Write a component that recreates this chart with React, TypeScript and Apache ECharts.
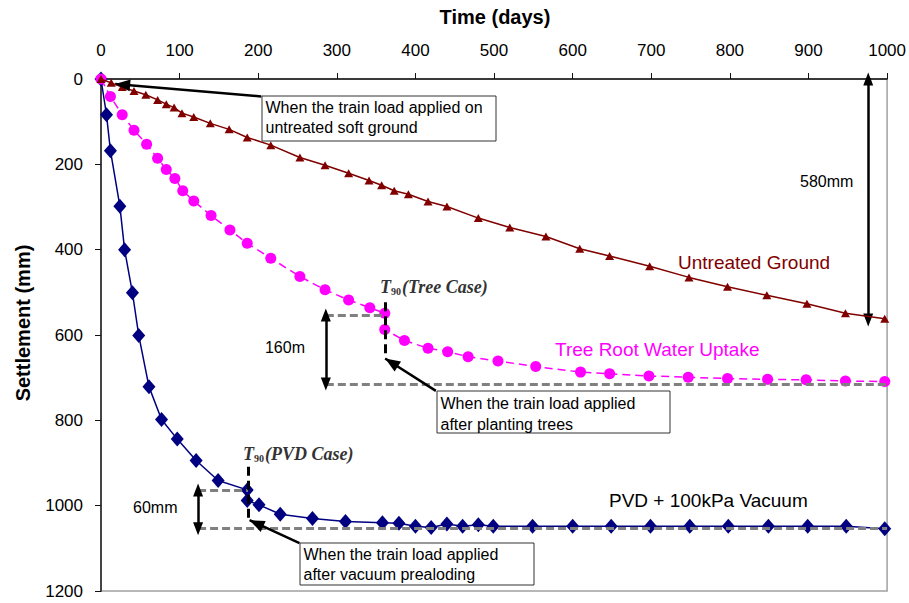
import React, { useEffect, useRef } from "react";
import * as echarts from "echarts";

// ---------- data ----------
const untreatedDays = [0, 13, 27, 42, 57, 72, 83, 93, 103, 118, 139, 163, 186, 216, 253, 285, 315, 341, 357, 373, 391, 416, 440, 480, 520, 566, 609, 647, 698, 748, 797, 847, 898, 947, 997];
const untreatedMm = [0, 9, 19, 28, 37, 49, 59, 67, 80, 89, 104, 118, 137, 155, 184, 202, 221, 238, 249, 262, 270, 287, 299, 326, 348, 369, 398, 415, 439, 465, 487, 507, 527, 549, 562];

const treeDays = [0, 12, 27, 42, 58, 72, 83, 94, 104, 118, 140, 164, 186, 216, 253, 285, 315, 342, 361, 361, 386, 416, 441, 467, 505, 553, 610, 647, 697, 747, 797, 848, 897, 947, 997];
const treeMm = [0, 41, 84, 120, 153, 186, 212, 233, 262, 286, 320, 354, 385, 420, 463, 494, 518, 536, 549, 587, 613, 631, 639, 651, 661, 674, 687, 691, 696, 699, 702, 704, 705, 708, 709];

const pvdDays = [0, 7, 12, 24, 30, 40, 48, 61, 77, 97, 121, 149, 186, 186, 201, 228, 269, 311, 358, 379, 400, 420, 440, 460, 480, 499, 549, 600, 649, 699, 749, 798, 849, 899, 948, 997];
const pvdMm = [0, 84, 168, 298, 400, 501, 601, 721, 798, 844, 894, 941, 963, 988, 998, 1020, 1030, 1037, 1040, 1041, 1048, 1051, 1043, 1048, 1045, 1048, 1048, 1048, 1048, 1048, 1048, 1048, 1048, 1048, 1048, 1054];

// annotation geometry in data units (days, mm)
const treeT90 = { day: 361, top: 523, bottom: 654, levelTop: 553, levelBottom: 715, arrowDay: 286 };
const pvdT90 = { day: 187, top: 909, bottom: 1032, levelTop: 963, levelBottom: 1054, arrowDay: 123.5 };
const total580 = { day: 976, top: 0, bottom: 565 };
const pointerUntreated = { from: [204, 41], to: [18, 12] };
const pointerTree = { from: [426, 731], to: [361.5, 655] };
const pointerPvd = { from: [252.5, 1088], to: [189, 1034] };

const FONT = '"Liberation Sans", Arial, sans-serif';
const SERIF = '"Liberation Serif", "Times New Roman", serif';

const zip = (a: number[], b: number[]) => a.map((v, i) => [v, b[i]]);

function txt(x: number, y: number, text: string, font: string, fill = "#000", align = "left", vAlign = "middle", extra: any = {}) {
  return {
    type: "text",
    x,
    y,
    z: 100,
    silent: true,
    style: { text, font, fill, align, verticalAlign: vAlign, textAlign: align, textVerticalAlign: vAlign, ...extra },
  };
}

function box(x: number, y: number, w: number, h: number, text: string, lh: number) {
  return [
    { type: "rect", z: 99, silent: true, shape: { x, y, width: w, height: h }, style: { fill: "#fff", stroke: "#333", lineWidth: 1 } },
    txt(x + 3.5, y + 1.5, text, `16px ${FONT}`, "#000", "left", "top", { lineHeight: lh }),
  ];
}

function t90(x: number, yBase: number, label: string) {
  const c = "#333";
  return {
    type: "text",
    x,
    y: yBase,
    z: 100,
    silent: true,
    style: {
      text: `{t|T}{s|90}{t|${label}}`,
      align: "left",
      verticalAlign: "bottom",
      textAlign: "left",
      textVerticalAlign: "bottom",
      rich: {
        t: { font: `italic bold 18px ${SERIF}`, fill: c, color: c, verticalAlign: "bottom", lineHeight: 20 },
        s: { font: `bold 10px ${SERIF}`, fill: c, color: c, verticalAlign: "bottom", lineHeight: 20, padding: [0, 1, 0, 0] },
      },
    },
  };
}

const seg = (a: number[], b: number[], s1 = "none", s2 = "none", size: number[] = [11, 15]) => [
  { coord: a, symbol: s1, symbolSize: size },
  { coord: b, symbol: s2, symbolSize: size },
];

export default function App() {
  const ref = useRef<HTMLDivElement>(null);
  useEffect(() => {
    if (!ref.current) return;
    const chart = echarts.init(ref.current, null, { renderer: "svg" });
    const baseGraphics: any[] = [
      txt(495, 17, "Time (days)", `bold 20px ${FONT}`, "#000", "center", "middle"),
      { ...txt(23, 323, "Settlement (mm)", `bold 20px ${FONT}`, "#000", "center", "middle"), rotation: Math.PI / 2 },
      txt(678, 262, "Untreated Ground", `19px ${FONT}`, "#800000"),
      txt(555, 349, "Tree Root Water Uptake", `19px ${FONT}`, "#ff00ff"),
      txt(609, 500, "PVD + 100kPa Vacuum", `19px ${FONT}`, "#000"),
      txt(800, 181, "580mm", `16px ${FONT}`),
      txt(305, 347, "160m", `16px ${FONT}`, "#000", "right"),
      txt(133, 507, "60mm", `16px ${FONT}`),
      t90(380, 296, "(Tree Case)"),
      t90(243, 463, "(PVD Case)"),
      ...box(262, 96, 234, 45, "When the train load applied on\nuntreated soft ground", 20),
      ...box(437, 391, 233, 42, "When the train load applied\nafter planting trees", 21),
      ...box(300, 543, 234, 42, "When the train load applied\nafter vacuum prealoding", 20),
    ];
    const option: any = {
      animation: false,
      backgroundColor: "#fff",
      grid: { left: 101, right: 21, top: 79, bottom: 12, show: true, borderColor: "#a0a0a0", borderWidth: 1.5 },
      xAxis: {
        type: "value",
        position: "top",
        min: 0,
        max: 1000,
        interval: 100,
        axisLine: { show: true, onZero: false, lineStyle: { color: "#111", width: 1.5 } },
        axisTick: { show: true, length: 6, lineStyle: { color: "#111", width: 1 } },
        axisLabel: { fontSize: 17, color: "#000", fontFamily: FONT, margin: 20, formatter: (v: number) => String(v) },
        splitLine: { show: false },
      },
      yAxis: {
        type: "value",
        inverse: true,
        min: 0,
        max: 1200,
        interval: 200,
        axisLine: { show: true, onZero: false, lineStyle: { color: "#444", width: 2 } },
        axisTick: { show: true, length: 6, lineStyle: { color: "#111", width: 1 } },
        axisLabel: { fontSize: 17, color: "#000", fontFamily: FONT, margin: 18, formatter: (v: number) => String(v) },
        splitLine: { show: false },
      },
      series: [
        {
          name: "PVD + 100kPa Vacuum",
          type: "line",
          data: zip(pvdDays, pvdMm),
          symbol: "diamond",
          symbolSize: [13, 15],
          itemStyle: { color: "#000080" },
          lineStyle: { color: "#000080", width: 1.5 },
          z: 3,
          silent: true,
        },
        {
          name: "Tree Root Water Uptake",
          type: "line",
          data: zip(treeDays, treeMm),
          symbol: "circle",
          symbolSize: 11,
          itemStyle: { color: "#ff00ff" },
          lineStyle: { color: "#ff00ff", width: 1.5, type: [8, 5] },
          z: 4,
          silent: true,
        },
        {
          name: "Untreated Ground",
          type: "line",
          data: zip(untreatedDays, untreatedMm),
          symbol: "triangle",
          symbolSize: [9, 8],
          itemStyle: { color: "#800000" },
          lineStyle: { color: "#800000", width: 1.5 },
          z: 5,
          silent: true,
        },
        {
          name: "grayLevels",
          type: "line",
          data: [],
          z: 6,
          silent: true,
          markLine: {
            silent: true,
            animation: false,
            symbol: "none",
            label: { show: false },
            lineStyle: { color: "#808080", width: 3, type: [8, 4] },
            data: [
              seg([treeT90.arrowDay, treeT90.levelTop], [treeT90.day, treeT90.levelTop]),
              seg([treeT90.arrowDay, treeT90.levelBottom], [1000, treeT90.levelBottom]),
              seg([pvdT90.arrowDay, pvdT90.levelTop], [pvdT90.day, pvdT90.levelTop]),
              seg([pvdT90.arrowDay, pvdT90.levelBottom], [1000, pvdT90.levelBottom]),
            ],
          },
        },
        {
          name: "t90Lines",
          type: "line",
          data: [],
          z: 7,
          silent: true,
          markLine: {
            silent: true,
            animation: false,
            symbol: "none",
            label: { show: false },
            lineStyle: { color: "#000", width: 3, type: [9, 5] },
            data: [
              seg([treeT90.day, treeT90.top], [treeT90.day, treeT90.bottom]),
              seg([pvdT90.day, pvdT90.top], [pvdT90.day, pvdT90.bottom]),
            ],
          },
        },
        {
          name: "arrows",
          type: "line",
          data: [],
          z: 8,
          silent: true,
          markLine: {
            silent: true,
            animation: false,
            symbol: "none",
            label: { show: false },
            itemStyle: { color: "#000" },
            lineStyle: { color: "#000", width: 2.5, type: "solid" },
            data: [
              seg(pointerUntreated.from, pointerUntreated.to),
              seg(pointerTree.from, pointerTree.to),
              seg(pointerPvd.from, pointerPvd.to),
              seg([treeT90.arrowDay, treeT90.levelTop], [treeT90.arrowDay, treeT90.levelBottom], "triangle", "triangle", [10, 13]),
              seg([pvdT90.arrowDay, pvdT90.levelTop], [pvdT90.arrowDay, pvdT90.levelBottom], "triangle", "triangle", [10, 13]),
              seg([total580.day, total580.top], [total580.day, total580.bottom], "triangle", "triangle", [10, 13]),
            ],
          },
        },
      ],
      graphic: { elements: baseGraphics },
    };
    chart.setOption(option);

    // filled arrowheads for the three pointer arrows, placed through the chart's scales
    const head = (from: number[], to: number[], len: number, wid: number) => {
      const a = chart.convertToPixel({ gridIndex: 0 }, from) as number[];
      const b = chart.convertToPixel({ gridIndex: 0 }, to) as number[];
      const dx = a[0] - b[0];
      const dy = a[1] - b[1];
      const d = Math.hypot(dx, dy) || 1;
      const ux = dx / d;
      const uy = dy / d;
      const bx = b[0] + ux * len;
      const by = b[1] + uy * len;
      const px = -uy * (wid / 2);
      const py = ux * (wid / 2);
      return {
        type: "polygon",
        z: 98,
        silent: true,
        shape: { points: [[b[0], b[1]], [bx + px, by + py], [bx - px, by - py]] },
        style: { fill: "#000" },
      };
    };
    chart.setOption({
      graphic: {
        elements: [
          ...baseGraphics,
          head(pointerUntreated.from, pointerUntreated.to, 15, 12),
          head(pointerTree.from, pointerTree.to, 15, 12),
          head(pointerPvd.from, pointerPvd.to, 15, 12),
        ],
      },
    });
    return () => chart.dispose();
  }, []);
  return <div ref={ref} style={{ position: "fixed", left: 0, top: 0, width: 909, height: 603, background: "#fff" }} />;
}
